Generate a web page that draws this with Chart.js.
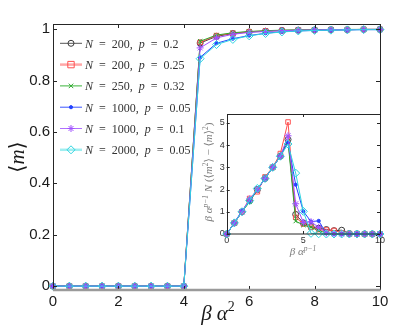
<!DOCTYPE html>
<html lang="en">
  <head>
    <meta charset="UTF-8" />
    <title>magnetisation vs beta alpha^2</title>
    <style>
      * {
        margin: 0px;
        padding: 0px;
        box-sizing: border-box;
      }
      body { background: #fff; width: 413px; height: 327px; overflow: hidden; }
      #wrap { position: relative; width: 413px; height: 327px; }
      #main { position: absolute; left: 0px; top: 0px; }
      #inset { position: absolute; left: 195px; top: 100px; }
    </style>
  </head>
  <body>
    <div id="wrap">
      <canvas id="main" width="413" height="327"></canvas>
      <canvas id="inset" width="205" height="162"></canvas>
    </div>

    <script src="https://cdn.jsdelivr.net/npm/chart.js"></script>
    <script>
      // beta alpha^2 (main) and beta alpha^(p-1) (inset) sample points
      const xs = [0, 0.5, 1, 1.5, 2, 2.5, 3, 3.5, 4, 4.5, 5, 5.5, 6, 6.5, 7, 7.5, 8, 8.5, 9, 9.5, 10]

      const sizes = [200, 200, 250, 1000, 1000, 2000]
      const probs = ['0.2', '0.25', '0.32', '0.05', '0.1', '0.05']

      // <m>
      const m200a  = [0, 0, 0, 0, 0, 0, 0, 0, 0, 0.946, 0.972, 0.983, 0.989, 0.992, 0.995, 0.996, 0.997, 0.998, 0.998, 0.999, 0.999]
      const m200b  = [0, 0, 0, 0, 0, 0, 0, 0, 0, 0.949, 0.975, 0.984, 0.990, 0.993, 0.995, 0.996, 0.997, 0.998, 0.998, 0.999, 0.999]
      const m250   = [0, 0, 0, 0, 0, 0, 0, 0, 0, 0.953, 0.977, 0.986, 0.991, 0.994, 0.996, 0.997, 0.998, 0.998, 0.999, 0.999, 0.999]
      const m1000a = [0, 0, 0, 0, 0, 0, 0, 0, 0, 0.890, 0.945, 0.963, 0.975, 0.984, 0.990, 0.993, 0.995, 0.996, 0.997, 0.998, 0.998]
      const m1000b = [0, 0, 0, 0, 0, 0, 0, 0, 0, 0.927, 0.966, 0.980, 0.987, 0.991, 0.994, 0.996, 0.997, 0.998, 0.998, 0.999, 0.999]
      const m2000  = [0, 0, 0, 0, 0, 0, 0, 0, 0, 0.885, 0.940, 0.960, 0.974, 0.983, 0.989, 0.993, 0.995, 0.996, 0.997, 0.998, 0.998]

      // inset: beta alpha^(p-1) N (<m^2> - <m>^2)
      const v200a  = [0, 0.5, 1.0, 1.5, 2.0, 2.5, 3.0, 3.5, 4.25, 0.88, 0.50, 0.33, 0.26, 0.20, 0.15, 0.17, 0.02, 0.01, 0, 0, 0]
      const v200b  = [0, 0.5, 1.0, 1.6, 1.9, 2.57, 3.0, 3.62, 5.04, 0.75, 0.45, 0.30, 0.20, 0.18, 0.16, 0.05, 0.01, 0, 0, 0, 0]
      const v250   = [0, 0.5, 1.0, 1.45, 2.0, 2.5, 3.0, 3.5, 4.18, 0.58, 0.40, 0.30, 0.15, 0.05, 0.02, 0.01, 0, 0, 0, 0, 0]
      const v1000a = [0, 0.5, 1.05, 1.5, 2.0, 2.5, 3.0, 3.5, 4.12, 2.22, 1.02, 0.56, 0.59, 0.03, 0.01, 0, 0, 0, 0, 0, 0]
      const v1000b = [0, 0.5, 1.0, 1.58, 2.0, 2.5, 3.0, 3.5, 4.42, 1.36, 0.52, 0.55, 0.30, 0.05, 0.01, 0, 0, 0, 0, 0, 0]
      const v2000  = [0, 0.5, 1.0, 1.5, 2.05, 2.5, 3.0, 3.5, 4.05, 2.74, 1.02, 0.03, 0.01, 0, 0, 0, 0, 0, 0, 0, 0]

      const mainXTicks = [0, 2, 4, 6, 8, 10]
      const mainYTicks = [0, 0.2, 0.4, 0.6, 0.8, 1]
      const insetXTicks = [0, 5, 10]
      const insetYTicks = [0, 1, 2, 3, 4, 5]

      const mainSeries = [m200a, m200b, m250, m1000a, m1000b, m2000]
      const insetSeries = [v200a, v200b, v250, v1000a, v1000b, v2000]

      // looks
      const estilos = [
        { cor: '#3a3a3a', marca: 'circle', r: 3, fill: null, leg: '#555', legW: 1 },
        { cor: '#ff5050', marca: 'rect', r: 3.2, fill: null, leg: '#ffa8a8', legW: 2.5 },
        { cor: '#2fa82f', marca: 'crossRot', r: 3, fill: null, leg: '#3cb43c', legW: 1 },
        { cor: '#2342ff', marca: 'circle', r: 1.6, fill: '#2342ff', leg: '#3a55ff', legW: 1 },
        { cor: '#a050ff', marca: 'star', r: 3.5, fill: null, leg: '#b070ff', legW: 1 },
        { cor: '#2fd4e0', marca: 'rectRot', r: 4, fill: null, leg: '#a0eef0', legW: 2.5 }
      ]
      const SANS = '"Liberation Sans", Arial, sans-serif'
      const SERIF = '"Liberation Serif", "DejaVu Serif", serif'

      const montarDatasets = (series) => series.map((s, i) => ({
        label: 'N = ' + sizes[i] + ', p = ' + probs[i],
        data: xs.map((x, k) => ({ x: x, y: s[k] })),
        borderColor: estilos[i].cor,
        backgroundColor: estilos[i].fill || 'rgba(0,0,0,0)',
        borderWidth: 1,
        pointStyle: estilos[i].marca,
        pointRadius: estilos[i].r,
        pointBorderColor: estilos[i].cor,
        pointBackgroundColor: estilos[i].fill || 'rgba(0,0,0,0)',
        pointBorderWidth: 1,
        tension: 0,
        clip: false,
        order: 5 - i
      }))

      const textoRico = (ctx, partes, x, y, align) => {
        let w = 0
        partes.forEach(p => { ctx.font = p[1]; w += ctx.measureText(p[0]).width })
        let cx = align === 'center' ? x - w / 2 : x
        partes.forEach(p => {
          ctx.font = p[1]
          ctx.fillText(p[0], cx, y + (p[2] || 0))
          cx += ctx.measureText(p[0]).width
        })
      }

      const desenharMarca = (ctx, tipo, x, y, r, cor, fill) => {
        ctx.save()
        ctx.strokeStyle = cor
        ctx.fillStyle = fill || cor
        ctx.lineWidth = 1
        ctx.beginPath()
        if (tipo === 'circle') {
          ctx.arc(x, y, r, 0, Math.PI * 2)
          if (fill) ctx.fill()
          ctx.stroke()
        } else if (tipo === 'rect') {
          ctx.rect(x - r, y - r, 2 * r, 2 * r)
          ctx.stroke()
        } else if (tipo === 'rectRot') {
          ctx.moveTo(x, y - r); ctx.lineTo(x + r, y); ctx.lineTo(x, y + r); ctx.lineTo(x - r, y); ctx.closePath()
          ctx.stroke()
        } else if (tipo === 'crossRot') {
          const d = r * 0.75
          ctx.moveTo(x - d, y - d); ctx.lineTo(x + d, y + d)
          ctx.moveTo(x + d, y - d); ctx.lineTo(x - d, y + d)
          ctx.stroke()
        } else if (tipo === 'star') {
          const d = r * 0.7
          ctx.moveTo(x - r, y); ctx.lineTo(x + r, y)
          ctx.moveTo(x, y - r); ctx.lineTo(x, y + r)
          ctx.moveTo(x - d, y - d); ctx.lineTo(x + d, y + d)
          ctx.moveTo(x + d, y - d); ctx.lineTo(x - d, y + d)
          ctx.stroke()
        }
        ctx.restore()
      }

      // box + inward ticks like matlab
      const caixa = (chart, xt, yt, tam, corBase, larguraBase) => {
        const ctx = chart.ctx
        const a = chart.chartArea
        const sx = chart.scales.x
        const sy = chart.scales.y
        ctx.save()
        ctx.strokeStyle = '#262626'
        ctx.lineWidth = 1
        ctx.beginPath()
        xt.forEach(v => {
          const px = Math.round(sx.getPixelForValue(v)) + 0.5
          ctx.moveTo(px, a.bottom); ctx.lineTo(px, a.bottom - tam)
          ctx.moveTo(px, a.top); ctx.lineTo(px, a.top + tam)
        })
        yt.forEach(v => {
          const py = Math.round(sy.getPixelForValue(v)) + 0.5
          ctx.moveTo(a.left, py); ctx.lineTo(a.left + tam, py)
          ctx.moveTo(a.right, py); ctx.lineTo(a.right - tam, py)
        })
        ctx.stroke()
        ctx.beginPath()
        ctx.moveTo(Math.round(a.left) + 0.5, a.bottom)
        ctx.lineTo(Math.round(a.left) + 0.5, Math.round(a.top) + 0.5)
        ctx.lineTo(Math.round(a.right) + 0.5, Math.round(a.top) + 0.5)
        ctx.lineTo(Math.round(a.right) + 0.5, a.bottom)
        ctx.stroke()
        ctx.strokeStyle = corBase
        ctx.lineWidth = larguraBase
        ctx.beginPath()
        ctx.moveTo(a.left, a.bottom); ctx.lineTo(a.right + 0.5, a.bottom)
        ctx.stroke()
        ctx.restore()
      }

      const pluginPrincipal = {
        id: 'principal',
        afterDraw(chart) {
          const ctx = chart.ctx
          caixa(chart, mainXTicks, mainYTicks, 4, '#9a9a9a', 2.5)
          ctx.save()
          ctx.fillStyle = '#1a1a1a'
          ctx.textBaseline = 'alphabetic'
          // x title
          textoRico(ctx, [['β', 'italic 21px ' + SERIF], [' ', '21px ' + SERIF], ['α', 'italic 21px ' + SERIF], ['2', '14px ' + SERIF, -9]], 218, 320, 'center')
          // y title
          ctx.save()
          ctx.translate(24, 157)
          ctx.rotate(-Math.PI / 2)
          textoRico(ctx, [['⟨', '21px ' + SERIF], ['m', 'italic 21px ' + SERIF], ['⟩', '21px ' + SERIF]], 0, 0, 'center')
          ctx.restore()
          // legend
          const y0 = 43.3, passo = 21.3
          sizes.forEach((n, i) => {
            const y = y0 + passo * i
            const e = estilos[i]
            ctx.save()
            ctx.strokeStyle = e.leg
            ctx.lineWidth = e.legW
            ctx.beginPath(); ctx.moveTo(60, y); ctx.lineTo(82, y); ctx.stroke()
            ctx.restore()
            desenharMarca(ctx, e.marca, 71, y, e.r, e.cor, e.fill)
            ctx.fillStyle = '#333'
            const f = 12
            textoRico(ctx, [
              ['N', 'italic ' + f + 'px ' + SERIF],
              ['  =  ' + n + ',  ', f + 'px ' + SERIF],
              ['p', 'italic ' + f + 'px ' + SERIF],
              ['  =  ' + probs[i], f + 'px ' + SERIF]
            ], 85, y + 4.5, 'left')
          })
          ctx.restore()
        }
      }

      const pluginInset = {
        id: 'inset',
        beforeDraw(chart) {
          const a = chart.chartArea
          chart.ctx.save()
          chart.ctx.fillStyle = '#fff'
          chart.ctx.fillRect(a.left, a.top, a.right - a.left, a.bottom - a.top)
          chart.ctx.restore()
        },
        afterDraw(chart) {
          const ctx = chart.ctx
          caixa(chart, insetXTicks, insetYTicks, 3, '#262626', 1)
          ctx.save()
          ctx.fillStyle = '#7a7a7a'
          const f = 11, s = 7.5
          textoRico(ctx, [['β', 'italic ' + f + 'px ' + SERIF], [' ', f + 'px ' + SERIF], ['α', 'italic ' + f + 'px ' + SERIF], ['p−1', 'italic ' + s + 'px ' + SERIF, -4.5]], 108, 155, 'center')
          ctx.translate(17, 72)
          ctx.rotate(-Math.PI / 2)
          textoRico(ctx, [
            ['β', 'italic ' + f + 'px ' + SERIF], [' ', f + 'px ' + SERIF], ['α', 'italic ' + f + 'px ' + SERIF],
            ['p−1', 'italic ' + s + 'px ' + SERIF, -4.5], [' ', f + 'px ' + SERIF], ['N', 'italic ' + f + 'px ' + SERIF],
            [' (⟨', f + 'px ' + SERIF], ['m', 'italic ' + f + 'px ' + SERIF], ['2', s + 'px ' + SERIF, -4.5],
            ['⟩ − ⟨', f + 'px ' + SERIF], ['m', 'italic ' + f + 'px ' + SERIF], ['⟩', f + 'px ' + SERIF],
            ['2', s + 'px ' + SERIF, -4.5], [')', f + 'px ' + SERIF]
          ], 0, 0, 'center')
          ctx.restore()
        }
      }

      const eixo = (min, max, ticks, fonte, pad, fit, vertical) => ({
        type: 'linear',
        min: min,
        max: max,
        grid: { display: false, drawTicks: false },
        border: { display: false },
        ticks: {
          font: { family: SANS, size: fonte },
          color: '#1a1a1a',
          padding: pad,
          autoSkip: false,
          maxRotation: 0,
          callback: v => String(v)
        },
        afterBuildTicks: s => { s.ticks = ticks.map(v => ({ value: v })) },
        afterFit: s => { if (vertical) s.width = fit; else s.height = fit }
      })

      const grafico1 = new Chart(document.getElementById('main'), {
        type: 'line',
        data: { datasets: montarDatasets(mainSeries) },
        options: {
          responsive: false,
          animation: false,
          layout: { padding: { top: 24, right: 33, left: 0, bottom: 0 } },
          plugins: { legend: { display: false }, tooltip: { enabled: false } },
          scales: {
            x: eixo(0, 10, mainXTicks, 15, 3, 37, false),
            y: eixo(-0.015, 1.02, mainYTicks, 15, 3, 53, true)
          }
        },
        plugins: [pluginPrincipal]
      })

      const insetOpts = {
        x: eixo(0, 10, insetXTicks, 9, 1, 28, false),
        y: eixo(0, 5.4, insetYTicks, 9, 2, 31.7, true)
      }
      insetOpts.x.ticks.color = '#333'
      insetOpts.y.ticks.color = '#333'

      const grafico2 = new Chart(document.getElementById('inset'), {
        type: 'line',
        data: { datasets: montarDatasets(insetSeries) },
        options: {
          responsive: false,
          animation: false,
          layout: { padding: { top: 14, right: 20, left: 0, bottom: 0 } },
          plugins: { legend: { display: false }, tooltip: { enabled: false } },
          scales: insetOpts
        },
        plugins: [pluginInset]
      })
    </script>
  </body>
</html>
